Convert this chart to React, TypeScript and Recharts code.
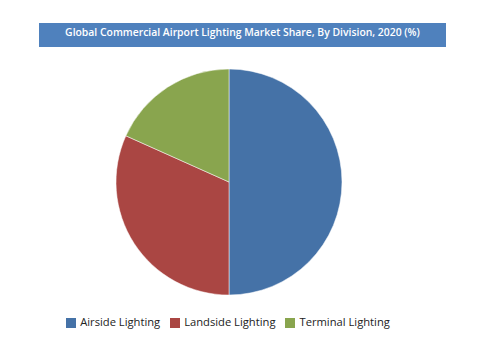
import React from "react"
import { PieChart, Pie, Cell, Legend } from "recharts"

// Shares by division (%)
const divisions = ["Airside Lighting", "Landside Lighting", "Terminal Lighting"]
const shares = [50.0, 31.7, 18.3]
const colors = ["#4572A7", "#AA4643", "#89A54E"]

const data = divisions.map((name, i) => ({ name, value: shares[i] }))

const FONT = "'Open Sans', 'Noto Sans', sans-serif"

export default function App() {
  return (
    <div style={{ position: "fixed", left: 0, top: 0, width: 499, height: 355, background: "#fff" }}>
      <div
        style={{
          position: "absolute",
          left: 39,
          top: 23,
          width: 407,
          height: 24,
          background: "#4F81BD",
          color: "#fff",
          fontFamily: FONT,
          fontWeight: 600,
          fontSize: 10.4,
          lineHeight: "18px",
          textAlign: "center",
        }}
      >
        Global Commercial Airport Lighting Market Share, By Division, 2020 (%)
      </div>
      <PieChart width={499} height={355} margin={{ top: 0, right: 0, bottom: 0, left: 0 }}>
        <Pie
          data={data}
          dataKey="value"
          nameKey="name"
          cx={229}
          cy={182}
          outerRadius={113}
          startAngle={90}
          endAngle={-270}
          stroke="#fff"
          strokeWidth={0.5}
          isAnimationActive={false}
        >
          {data.map((d, i) => (
            <Cell key={d.name} fill={colors[i]} />
          ))}
        </Pie>
        <Legend
          verticalAlign="bottom"
          align="center"
          iconType="square"
          iconSize={10}
          wrapperStyle={{ top: 314, bottom: "auto", left: 0, width: 466, fontFamily: FONT, fontSize: 11.2 }}
          formatter={(value) => <span style={{ color: "#222" }}>{value}</span>}
        />
      </PieChart>
    </div>
  )
}
